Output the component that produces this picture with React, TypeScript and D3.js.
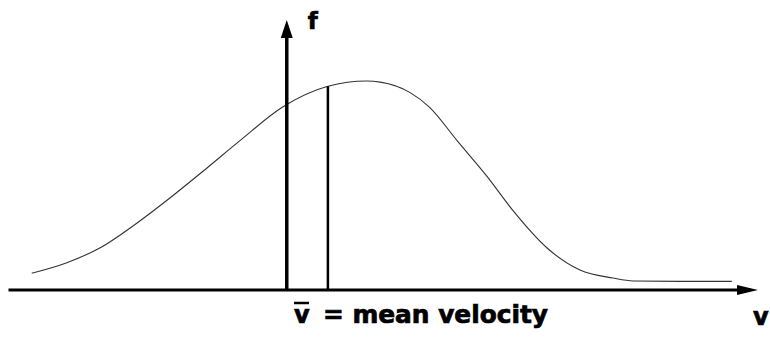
import { useEffect, useRef } from 'react';
import * as d3 from 'd3';

// velocity (arbitrary units) and distribution value f
const velocity = [2.9, 7.6, 12.0, 17.4, 21.8, 26.3, 30.7, 36.4, 42.5, 47.7, 49.5, 53.5, 56.1, 59.8, 63.8, 67.2, 71.8, 76.2, 80.6, 83.3, 89.6, 96.5];
const density = [0.08, 0.13, 0.2, 0.33, 0.45, 0.58, 0.71, 0.87, 0.97, 0.995, 0.99, 0.94, 0.87, 0.71, 0.54, 0.38, 0.2, 0.095, 0.057, 0.043, 0.041, 0.041];

const meanV = 42.5;
const meanF = 0.97;
const fAxisAt = 37.0;
const fAxisTop = 1.286;
const vAxisEnd = 100;

const WIDTH = 770;
const HEIGHT = 337;

export default function App() {
  const svgRef = useRef<SVGSVGElement>(null);

  useEffect(() => {
    if (!svgRef.current) return;
    const svg = d3.select(svgRef.current);
    svg.selectAll('*').remove();

    const x = d3.scaleLinear().domain([0, 100]).range([10, 758]);
    const y = d3.scaleLinear().domain([0, 1]).range([290, 80]);

    const points: [number, number][] = velocity.map((v, i) => [v, density[i]]);

    // distribution curve
    const line = d3.line<[number, number]>()
      .x(d => x(d[0]))
      .y(d => y(d[1]))
      .curve(d3.curveMonotoneX);

    svg.append('path')
      .datum(points)
      .attr('d', line)
      .attr('fill', 'none')
      .attr('stroke', '#333')
      .attr('stroke-width', 1.1);

    // horizontal v axis
    const y0 = y(0);
    svg.append('line')
      .attr('x1', x(-0.2)).attr('x2', x(vAxisEnd) - 12)
      .attr('y1', y0).attr('y2', y0)
      .attr('stroke', '#000')
      .attr('stroke-width', 3);
    const tipX = x(vAxisEnd);
    svg.append('path')
      .attr('d', `M${tipX},${y0} L${tipX - 21},${y0 - 5} L${tipX - 21},${y0 + 5} Z`)
      .attr('fill', '#000');

    // vertical f axis
    const ax = x(fAxisAt);
    const tipY = y(fAxisTop);
    svg.append('line')
      .attr('x1', ax).attr('x2', ax)
      .attr('y1', y0).attr('y2', tipY + 12)
      .attr('stroke', '#000')
      .attr('stroke-width', 3.5);
    svg.append('path')
      .attr('d', `M${ax},${tipY} L${ax - 6},${tipY + 18} L${ax + 6},${tipY + 18} Z`)
      .attr('fill', '#000');

    // mean velocity line
    svg.append('line')
      .attr('x1', x(meanV)).attr('x2', x(meanV))
      .attr('y1', y0).attr('y2', y(meanF))
      .attr('stroke', '#000')
      .attr('stroke-width', 2.5);

    const font = "'DejaVu Sans', sans-serif";
    const label = (sel: d3.Selection<SVGTextElement, unknown, null, undefined>) =>
      sel.attr('font-family', font)
        .attr('font-weight', 'bold')
        .attr('font-size', 24)
        .attr('fill', '#000')
        .attr('stroke', '#000')
        .attr('stroke-width', 0.7);

    svg.append('text')
      .attr('x', ax + 21).attr('y', 29)
      .call(label)
      .attr('font-size', 23)
      .text('f');

    svg.append('text')
      .attr('x', 753).attr('y', 325)
      .call(label)
      .text('v');

    // label: v-bar = mean velocity
    svg.append('text')
      .attr('x', 294).attr('y', 323)
      .call(label)
      .text('v');
    svg.append('line')
      .attr('x1', 294).attr('x2', 309)
      .attr('y1', 303).attr('y2', 303)
      .attr('stroke', '#000')
      .attr('stroke-width', 2.5);
    svg.append('text')
      .attr('x', 323).attr('y', 323)
      .call(label)
      .attr('textLength', 225)
      .attr('lengthAdjust', 'spacingAndGlyphs')
      .text('= mean velocity');
  }, []);

  return (
    <svg
      ref={svgRef}
      width={WIDTH}
      height={HEIGHT}
      style={{ position: 'absolute', left: 0, top: 0, background: '#fff' }}
    />
  );
}
